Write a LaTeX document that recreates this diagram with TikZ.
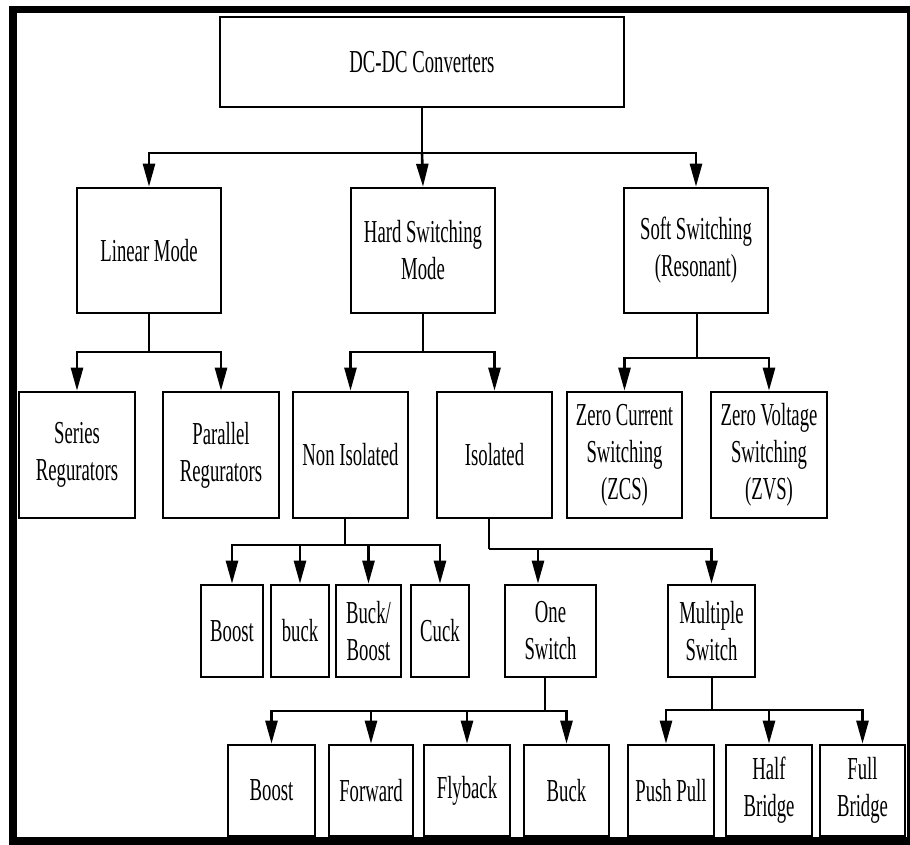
\documentclass[tikz,border=0pt]{standalone}
\usepackage{fontspec}
\setmainfont{Liberation Serif}[FakeStretch=0.585]
\usetikzlibrary{arrows.meta}
\newcommand\boxnode[5]{\node[box,minimum width=#3pt,minimum height=#4pt] (#1) at (#2) {#5};}
\begin{document}
\begin{tikzpicture}[x=1pt,y=-1pt,
  box/.style={draw, line width=2.6pt, inner sep=0pt, align=center, font=\fontsize{32}{37}\selectfont},
  conn/.style={line width=2.6pt},
  arr/.style={conn, -{Triangle[length=23pt,width=12pt]}}]
\useasboundingbox (0,0) rectangle (910,845);
% frame
\draw[line width=7pt] (9,9.5) -- (910,9.5);
\draw[line width=3pt] (908,6) -- (908,845);
\draw[line width=8pt] (9,841) -- (910,841);
\draw[line width=8pt] (13,6) -- (13,845);
% boxes
\boxnode{top}{422,62}{404}{90}{DC-DC Converters}
\boxnode{lin}{149,250.5}{144}{125}{Linear Mode}
\boxnode{hard}{423,250.5}{144}{125}{Hard Switching\\Mode}
\boxnode{soft}{696,250.5}{144}{125}{Soft Switching\\(Resonant)}
\boxnode{series}{77,455}{116}{126}{Series\\Regurators}
\boxnode{parallel}{221,455}{116}{126}{Parallel\\Regurators}
\boxnode{noniso}{350.5,455}{115}{126}{Non Isolated}
\boxnode{iso}{494.5,455}{115}{126}{Isolated}
\boxnode{zcs}{624.5,455}{115}{126}{Zero Current\\Switching\\(ZCS)}
\boxnode{zvs}{769,455}{116}{126}{Zero Voltage\\Switching\\(ZVS)}
\boxnode{boostA}{232,631}{62}{92}{Boost}
\boxnode{buckA}{300,631}{58}{92}{buck}
\boxnode{buckboost}{368.5,631}{65}{92}{Buck/\\Boost}
\boxnode{cuck}{440,631}{58}{92}{Cuck}
\boxnode{one}{550.5,631}{91}{92}{One\\Switch}
\boxnode{multi}{711.5,631}{87}{92}{Multiple\\Switch}
\boxnode{boostB}{271.5,790.5}{87}{91}{Boost}
\boxnode{forward}{371,790.5}{84}{91}{Forward}
\boxnode{flyback}{467,790.5}{86}{91}{Flyback}
\boxnode{buckB}{566.5,790.5}{85}{91}{Buck}
\boxnode{push}{671,790.5}{86}{91}{Push Pull}
\boxnode{half}{769,790.5}{86}{91}{Half\\Bridge}
\boxnode{full}{862.5,790.5}{85}{91}{Full\\Bridge}
% bus coordinates
\coordinate (b1) at (422,153);
\coordinate (b2) at (149,352);
\coordinate (b3) at (423,352);
\coordinate (b4) at (697,358);
\coordinate (b5) at (345,545);
\coordinate (b6) at (489,549);
\coordinate (b7) at (545,711);
\coordinate (b8) at (712,710);
% connectors
\draw[conn] (top.south) -- (b1);
\draw[arr] (b1) -| (lin.north);
\draw[arr] (b1) -- (hard.north);
\draw[arr] (b1) -| (soft.north);
\draw[conn] (lin.south) -- (b2);
\draw[arr] (b2) -| (series.north);
\draw[arr] (b2) -| (parallel.north);
\draw[conn] (hard.south) -- (b3);
\draw[arr] (b3) -| (noniso.north);
\draw[arr] (b3) -| (iso.north);
\draw[conn] (soft.south -| b4) -- (b4);
\draw[arr] (b4) -| (zcs.north);
\draw[arr] (b4) -| (zvs.north);
\draw[conn] (noniso.south -| b5) -- (b5);
\draw[arr] (b5) -| (boostA.north);
\draw[arr] (b5) -| (buckA.north);
\draw[arr] (b5) -| (buckboost.north);
\draw[arr] (b5) -| (cuck.north);
\draw[conn] (iso.south -| b6) -- (b6);
\draw[arr] (b6) -| ([xshift=-12.5pt]one.north);
\draw[arr] (b6) -| (multi.north);
\draw[conn] (one.south -| b7) -- (b7);
\draw[arr] (b7) -| (boostB.north);
\draw[arr] (b7) -| (forward.north);
\draw[arr] (b7) -| (flyback.north);
\draw[arr] (b7) -| (buckB.north);
\draw[conn] (multi.south -| b8) -- (b8);
\draw[arr] (b8) -| ([xshift=-5pt]push.north);
\draw[arr] (b8) -| (half.north);
\draw[arr] (b8) -| (full.north);
\end{tikzpicture}
\end{document}
